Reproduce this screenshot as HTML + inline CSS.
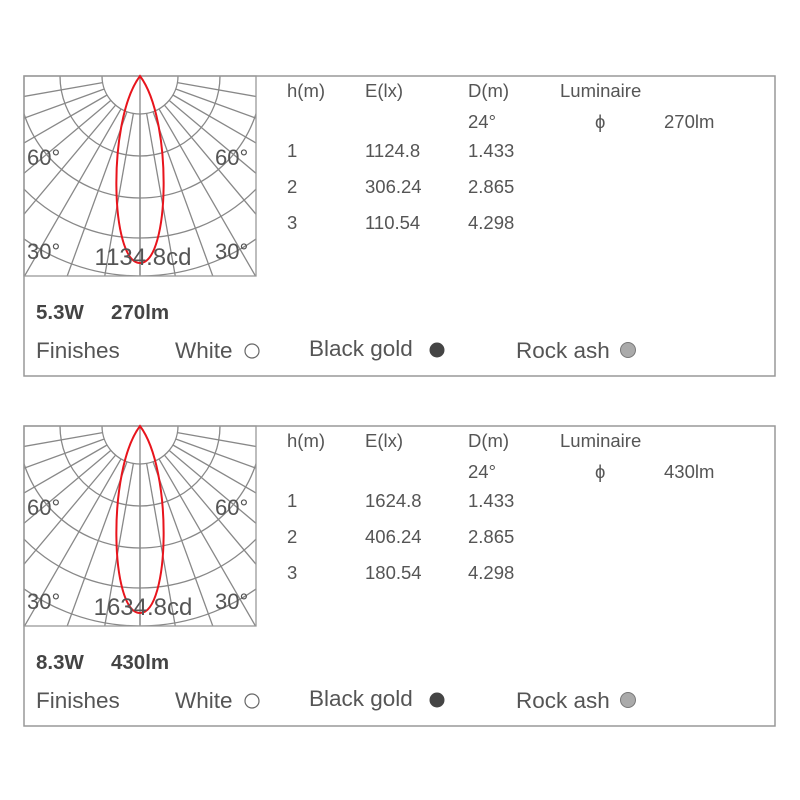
<!DOCTYPE html>
<html><head><meta charset="utf-8"><style>
body{margin:0;background:#fff;}
svg{display:block;font-family:"Liberation Sans",sans-serif;}
</style></head><body>
<svg width="800" height="800" viewBox="0 0 800 800">
<defs>
<clipPath id="c1"><rect x="24" y="76" width="232" height="200"/></clipPath>
<g id="grid" stroke="#888" stroke-width="1.3" fill="none">
  <circle r="38"/><circle r="80"/><circle r="122"/><circle r="162"/><circle r="200"/>
  <line x1="0" y1="0" x2="0" y2="300"/>
  <g id="rl"><line x1="0" y1="38" x2="0" y2="300"/></g>
  <use href="#rl" transform="rotate(10)"/><use href="#rl" transform="rotate(20)"/><use href="#rl" transform="rotate(30)"/><use href="#rl" transform="rotate(40)"/><use href="#rl" transform="rotate(50)"/><use href="#rl" transform="rotate(60)"/><use href="#rl" transform="rotate(70)"/><use href="#rl" transform="rotate(80)"/>
  <use href="#rl" transform="rotate(-10)"/><use href="#rl" transform="rotate(-20)"/><use href="#rl" transform="rotate(-30)"/><use href="#rl" transform="rotate(-40)"/><use href="#rl" transform="rotate(-50)"/><use href="#rl" transform="rotate(-60)"/><use href="#rl" transform="rotate(-70)"/><use href="#rl" transform="rotate(-80)"/>
</g>
<g id="panel">
<rect x="24" y="76" width="751" height="300" fill="none" stroke="#999" stroke-width="1.5"/>
<g clip-path="url(#c1)"><use href="#grid" transform="translate(140,76)"/></g>
<rect x="24" y="76" width="232" height="200" fill="none" stroke="#999" stroke-width="1.3"/>
<path d="M140,76 C107,120 110,263 140,263 C170,263 173,120 140,76Z" fill="none" stroke="#e8141c" stroke-width="2"/>
<g fill="#555" font-size="22">
<text x="27" y="165">60°</text><text x="215" y="165">60°</text>
<text x="27" y="259">30°</text><text x="215" y="259">30°</text>
</g>
<g fill="#555" font-size="18.5">
<text x="287" y="97">h(m)</text><text x="365" y="97">E(lx)</text><text x="468" y="97">D(m)</text><text x="560" y="97">Luminaire</text>
<text x="468" y="128">24°</text><text x="595" y="128">ϕ</text>
<text x="287" y="157">1</text><text x="468" y="157">1.433</text>
<text x="287" y="193">2</text><text x="468" y="193">2.865</text>
<text x="287" y="229">3</text><text x="468" y="229">4.298</text>
</g>
<g fill="#555" font-size="22.5">
<text x="36" y="358">Finishes</text><text x="175" y="358">White</text><text x="309" y="356">Black gold</text><text x="516" y="358">Rock ash</text>
</g>
<circle cx="252" cy="351" r="7" fill="#fff" stroke="#666" stroke-width="1.2"/>
<circle cx="437" cy="350" r="7.5" fill="#444"/>
<circle cx="628" cy="350" r="7.5" fill="#aaa" stroke="#777" stroke-width="1"/>
</g>
</defs>

<use href="#panel"/>
<g fill="#555">
<text x="143" y="265" text-anchor="middle" font-size="24">1134.8cd</text>
<g font-size="18.5">
<text x="664" y="128">270lm</text>
<text x="365" y="157">1124.8</text><text x="365" y="193">306.24</text><text x="365" y="229">110.54</text>
</g>
<g fill="#444" font-size="20.5" font-weight="bold"><text x="36" y="319">5.3W</text><text x="111" y="319">270lm</text></g>
</g>

<use href="#panel" transform="translate(0,350)"/>
<g fill="#555" transform="translate(0,350)">
<text x="143" y="265" text-anchor="middle" font-size="24">1634.8cd</text>
<g font-size="18.5">
<text x="664" y="128">430lm</text>
<text x="365" y="157">1624.8</text><text x="365" y="193">406.24</text><text x="365" y="229">180.54</text>
</g>
<g fill="#444" font-size="20.5" font-weight="bold"><text x="36" y="319">8.3W</text><text x="111" y="319">430lm</text></g>
</g>
</svg>
</body></html>
